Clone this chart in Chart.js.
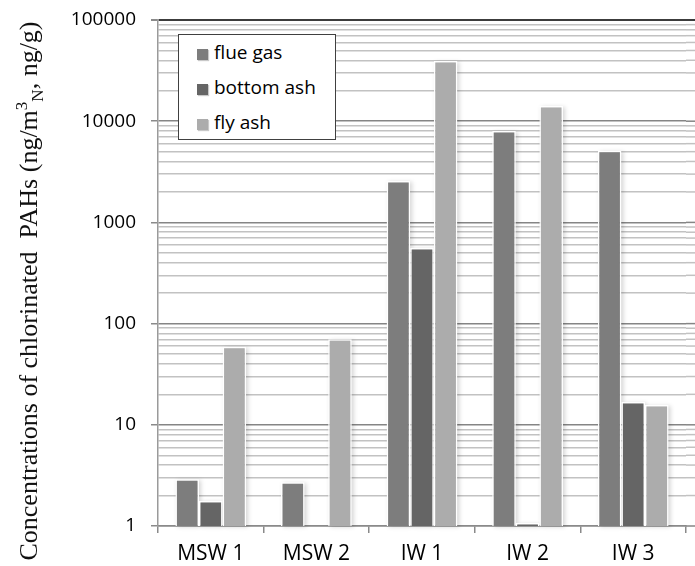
<!DOCTYPE html>
<html>
<head>
<meta charset="utf-8">
<script src="https://cdn.jsdelivr.net/npm/chart.js@4"></script>
<style>
    body { margin: 0; background: #fff; }
    #wrap { position: relative; width: 695px; height: 566px; overflow: hidden; }
    #yTitle {
        position: absolute; left: -254px; top: 276px; width: 566px; height: 30px;
        line-height: 30px; text-align: center; white-space: nowrap;
        transform: rotate(-90deg); transform-origin: 50% 50%;
        font-family: "Liberation Serif", "Times New Roman", serif; font-size: 26px; color: #111;
    }
    #yTitle sup, #yTitle sub { font-size: 17px; line-height: 0; }
    #legend {
        position: absolute; left: 178px; top: 34px; width: 156px; height: 104px;
        background: #fff; border: 1px solid #404040;
        font-family: "Open Sans", sans-serif; font-size: 19px; color: #000;
    }
    .item { height: 35px; line-height: 35px; padding-left: 18px; white-space: nowrap; }
    .swatch {
        display: inline-block; width: 11px; height: 11px; margin-right: 6px;
        vertical-align: -1px; box-shadow: 1px 1px 1px #c8c8c8;
    }
</style>
</head>
<body>
<div id="wrap">
    <canvas id="chart" width="695" height="566"></canvas>
    <div id="yTitle">Concentrations of chlorinated&nbsp; PAHs (ng/m<sup>3</sup><sub>N</sub>, ng/g)</div>
    <div id="legend"></div>
</div>
<script>
// data (log scale)
const categories = ['MSW 1', 'MSW 2', 'IW 1', 'IW 2', 'IW 3'];
const seriesNames = ['flue gas', 'bottom ash', 'fly ash'];
const flueGas = [2.9, 2.7, 2570, 8000, 5100];
const bottomAsh = [1.77, 1, 560, 1.07, 16.8];
const flyAsh = [59, 70, 39300, 14100, 15.7];
const seriesColors = ['#7d7d7d', '#656565', '#acacac'];
const yTickLabels = [1, 10, 100, 1000, 10000, 100000];

const isDecade = v => yTickLabels.includes(v);

function gridColor(v) {
    if (v === yTickLabels[yTickLabels.length - 1]) return '#3c3c3c';
    return isDecade(v) ? '#858585' : '#c2c2c2';
}

// horizontal grid runs on to the cropped right edge, plus soft bar shadows
const extras = {
    id: 'extras',
    beforeDatasetsDraw(chart) {
        const { ctx, chartArea, scales } = chart;
        ctx.save();
        scales.y.ticks.forEach(t => {
            const py = scales.y.getPixelForValue(t.value);
            ctx.strokeStyle = gridColor(t.value);
            ctx.lineWidth = t.value === 100000 ? 2 : 1.5;
            ctx.beginPath();
            ctx.moveTo(chartArea.right, py);
            ctx.lineTo(chart.width, py);
            ctx.stroke();
        });
        ctx.fillStyle = 'rgba(0,0,0,0.16)';
        ctx.filter = 'blur(2px)';
        chart.data.datasets.forEach((ds, i) => {
            chart.getDatasetMeta(i).data.forEach(bar => {
                const h = bar.base - bar.y;
                if (h < 1) return;
                ctx.fillRect(bar.x - bar.width / 2 + 2, bar.y + 1, bar.width, h);
            });
        });
        ctx.restore();
    }
};

const datasets = [flueGas, bottomAsh, flyAsh].map((vals, i) => ({
    label: seriesNames[i],
    data: vals,
    backgroundColor: seriesColors[i],
    borderColor: '#ffffff',
    borderWidth: 1.5,
    categoryPercentage: 0.67,
    barPercentage: 1.0
}));

const chart = new Chart(document.getElementById('chart').getContext('2d'), {
    type: 'bar',
    data: { labels: categories, datasets },
    options: {
        responsive: false,
        animation: false,
        layout: { padding: { top: 20, right: 9, bottom: 0, left: 0 } },
        plugins: { legend: { display: false }, tooltip: { enabled: false } },
        scales: {
            x: {
                grid: { drawOnChartArea: false, tickLength: 7, color: '#8a8a8a', lineWidth: 1.5 },
                border: { color: '#8a8a8a', width: 1.5 },
                ticks: { color: '#000', padding: 8, font: { family: 'Open Sans', size: 21 } },
                afterFit: s => { s.height = 40; }
            },
            y: {
                type: 'logarithmic',
                min: 1,
                max: 100000,
                afterBuildTicks: s => {
                    const ticks = [];
                    yTickLabels.forEach((d, i) => {
                        if (i === yTickLabels.length - 1) { ticks.push({ value: d }); return; }
                        for (let k = 1; k < 10; k++) ticks.push({ value: k * d });
                    });
                    s.ticks = ticks;
                },
                afterFit: s => { s.width = 158; s.paddingTop = 0; s.paddingBottom = 0; },
                grid: {
                    color: c => gridColor(c.tick.value),
                    lineWidth: c => c.tick.value === 100000 ? 2 : 1.5,
                    tickLength: 7,
                    tickColor: c => isDecade(c.tick.value) ? '#8a8a8a' : 'rgba(0,0,0,0)'
                },
                border: { color: '#9a9a9a', width: 1.5 },
                ticks: {
                    autoSkip: false,
                    color: '#000',
                    padding: 15,
                    font: { family: 'Open Sans', size: 19 },
                    callback: v => isDecade(v) ? String(v) : ''
                }
            }
        }
    },
    plugins: [extras]
});

// legend box sits inside the plot, built from the datasets
const legend = document.getElementById('legend');
chart.data.datasets.forEach(ds => {
    const item = document.createElement('div');
    item.className = 'item';
    const sw = document.createElement('span');
    sw.className = 'swatch';
    sw.style.background = ds.backgroundColor;
    item.appendChild(sw);
    item.appendChild(document.createTextNode(ds.label));
    legend.appendChild(item);
});
</script>
</body>
</html>
